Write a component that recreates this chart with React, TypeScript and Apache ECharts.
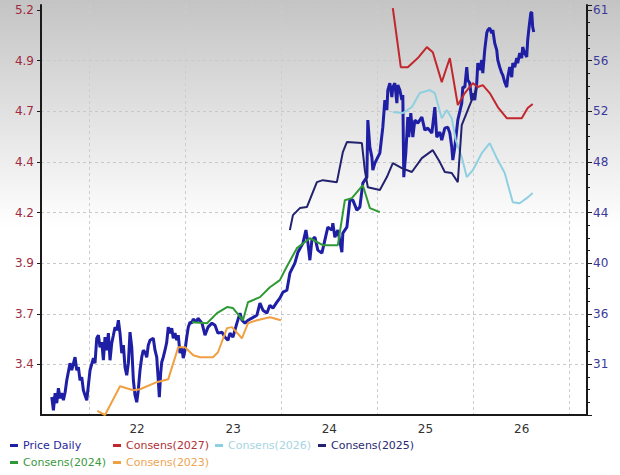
import React, { useEffect, useRef } from "react";
import * as echarts from "echarts";

// ---------- data ----------
const yearBounds = [2022, 2023, 2024, 2025, 2026, 2027];
const yearMids = [2022.5, 2023.5, 2024.5, 2025.5, 2026.5];
const yearLabels = ["22", "23", "24", "25", "26"];

const leftMin = 3.2;
const leftStep = 0.25;
const leftAxisLabels = ["3.4", "3.7", "3.9", "4.2", "4.4", "4.7", "4.9", "5.2"];
const rightMin = 27.82;
const rightStep = 4.15;
const rightAxisLabels = ["31", "36", "40", "44", "48", "52", "56", "61"];

const priceDaily: [number, number][] = [
  [2021.612, 29.3], [2021.629, 28.21], [2021.647, 29.61], [2021.664, 28.79], [2021.681, 30.02],
  [2021.699, 29.2], [2021.716, 29.61], [2021.733, 29.03], [2021.751, 29.69], [2021.768, 30.67],
  [2021.802, 32.07], [2021.82, 31.49], [2021.854, 32.56], [2021.872, 31.49], [2021.889, 31.74],
  [2021.906, 30.67], [2021.924, 30.92], [2021.941, 29.85], [2021.958, 29.44], [2021.976, 29.03],
  [2022.01, 31.49], [2022.045, 32.48], [2022.062, 32.07], [2022.08, 34.12], [2022.097, 34.36],
  [2022.114, 33.38], [2022.132, 33.79], [2022.149, 32.31], [2022.166, 34.2], [2022.184, 33.13],
  [2022.201, 34.53], [2022.218, 32.31], [2022.236, 33.71], [2022.253, 34.36], [2022.27, 35.02],
  [2022.288, 34.77], [2022.305, 35.59], [2022.322, 34.53], [2022.34, 32.89], [2022.357, 33.54],
  [2022.374, 31.74], [2022.392, 31.08], [2022.409, 32.07], [2022.426, 34.61], [2022.444, 33.38],
  [2022.461, 30.67], [2022.478, 29.44], [2022.496, 28.87], [2022.512, 29.85], [2022.53, 31.49],
  [2022.548, 32.56], [2022.564, 33.13], [2022.582, 32.97], [2022.6, 32.56], [2022.616, 33.54],
  [2022.634, 33.95], [2022.668, 34.12], [2022.686, 33.13], [2022.704, 32.56], [2022.72, 30.67],
  [2022.731, 29.28], [2022.745, 31.25], [2022.756, 32.15], [2022.772, 32.56], [2022.79, 33.13],
  [2022.808, 33.79], [2022.824, 35.02], [2022.842, 34.53], [2022.86, 34.94], [2022.876, 34.12],
  [2022.894, 34.53], [2022.912, 33.95], [2022.928, 34.36], [2022.946, 32.89], [2022.964, 33.38],
  [2022.98, 32.48], [2022.998, 33.13], [2023.016, 34.2], [2023.032, 35.02], [2023.05, 35.43],
  [2023.068, 35.35], [2023.084, 35.68], [2023.12, 35.43], [2023.133, 35.76], [2023.175, 35.35],
  [2023.206, 34.36], [2023.237, 35.02], [2023.279, 35.35], [2023.31, 35.18], [2023.341, 34.53],
  [2023.383, 34.61], [2023.414, 34.2], [2023.445, 33.95], [2023.466, 34.53], [2023.497, 34.2],
  [2023.538, 35.35], [2023.57, 36.17], [2023.59, 35.59], [2023.622, 35.35], [2023.653, 35.59],
  [2023.694, 35.76], [2023.746, 36.0], [2023.778, 36.99], [2023.809, 36.41], [2023.85, 36.17],
  [2023.881, 36.82], [2023.913, 36.58], [2023.954, 37.07], [2023.985, 37.4], [2024.017, 37.89],
  [2024.058, 38.05], [2024.089, 39.45], [2024.141, 40.27], [2024.173, 41.17], [2024.225, 41.91],
  [2024.256, 42.98], [2024.277, 41.91], [2024.297, 40.51], [2024.318, 42.16], [2024.349, 42.4],
  [2024.38, 41.34], [2024.422, 41.09], [2024.453, 42.16], [2024.484, 43.22], [2024.526, 42.98],
  [2024.536, 43.55], [2024.557, 42.4], [2024.588, 42.98], [2024.63, 41.17], [2024.64, 42.73],
  [2024.682, 43.22], [2024.713, 45.44], [2024.744, 45.44], [2024.786, 44.62], [2024.817, 44.86],
  [2024.848, 46.83], [2024.89, 47.32], [2024.9, 52.0], [2024.921, 49.78], [2024.942, 48.96],
  [2024.952, 47.9], [2024.973, 48.47], [2025.004, 48.96], [2025.025, 49.29], [2025.056, 51.42],
  [2025.077, 53.64], [2025.098, 52.82], [2025.108, 54.46], [2025.129, 55.03], [2025.15, 53.88],
  [2025.16, 54.7], [2025.181, 55.03], [2025.202, 53.39], [2025.212, 54.87], [2025.233, 54.46],
  [2025.254, 53.64], [2025.264, 54.05], [2025.274, 47.32], [2025.295, 49.29], [2025.316, 52.24],
  [2025.326, 50.6], [2025.347, 52.57], [2025.368, 50.6], [2025.389, 52.0], [2025.42, 51.75],
  [2025.462, 52.24], [2025.493, 51.18], [2025.524, 51.34], [2025.566, 50.93], [2025.597, 53.06],
  [2025.617, 50.6], [2025.649, 51.01], [2025.669, 50.36], [2025.701, 51.34], [2025.732, 51.42],
  [2025.753, 50.93], [2025.773, 49.78], [2025.784, 48.72], [2025.805, 49.78], [2025.836, 52.0],
  [2025.877, 53.39], [2025.888, 54.7], [2025.909, 54.7], [2025.929, 56.34], [2025.94, 55.28],
  [2025.96, 55.03], [2025.981, 53.64], [2025.992, 54.21], [2026.012, 53.64], [2026.033, 55.03],
  [2026.044, 56.67], [2026.064, 56.1], [2026.085, 56.92], [2026.096, 55.85], [2026.116, 57.74],
  [2026.137, 59.13], [2026.148, 59.38], [2026.168, 59.54], [2026.189, 59.13], [2026.2, 59.38],
  [2026.22, 58.31], [2026.241, 57.74], [2026.252, 56.92], [2026.272, 56.34], [2026.293, 55.85],
  [2026.304, 55.69], [2026.324, 55.11], [2026.345, 54.7], [2026.356, 55.52], [2026.376, 56.34],
  [2026.397, 55.52], [2026.408, 56.67], [2026.428, 56.34], [2026.449, 57.08], [2026.459, 56.67],
  [2026.48, 57.49], [2026.501, 57.08], [2026.511, 57.99], [2026.532, 57.49], [2026.553, 57.17],
  [2026.563, 58.56], [2026.574, 59.38], [2026.595, 60.77], [2026.605, 60.86], [2026.615, 59.63],
  [2026.626, 59.22],
];

const consens2027: [number, number][] = [
  [2025.16, 5.21], [2025.243, 4.918], [2025.316, 4.918], [2025.42, 4.963], [2025.514, 5.017],
  [2025.576, 4.992], [2025.669, 4.844], [2025.753, 4.963], [2025.836, 4.731], [2025.909, 4.79],
  [2025.992, 4.839], [2026.044, 4.82], [2026.096, 4.829], [2026.168, 4.79], [2026.252, 4.721],
  [2026.345, 4.666], [2026.501, 4.666], [2026.563, 4.716], [2026.615, 4.736],
];

const consens2026: [number, number][] = [
  [2025.16, 4.696], [2025.264, 4.691], [2025.358, 4.721], [2025.441, 4.79], [2025.545, 4.805],
  [2025.597, 4.79], [2025.669, 4.666], [2025.721, 4.706], [2025.773, 4.666], [2025.815, 4.558],
  [2025.877, 4.474], [2025.929, 4.375], [2025.992, 4.409], [2026.085, 4.493], [2026.168, 4.543],
  [2026.241, 4.469], [2026.324, 4.395], [2026.408, 4.251], [2026.48, 4.246], [2026.553, 4.271],
  [2026.615, 4.296],
];

const consens2025: [number, number][] = [
  [2024.089, 4.113], [2024.121, 4.187], [2024.193, 4.222], [2024.266, 4.227], [2024.37, 4.35],
  [2024.432, 4.36], [2024.578, 4.35], [2024.64, 4.498], [2024.682, 4.548], [2024.838, 4.543],
  [2024.869, 4.409], [2024.9, 4.325], [2025.025, 4.311], [2025.098, 4.375], [2025.16, 4.444],
  [2025.254, 4.419], [2025.358, 4.4], [2025.462, 4.469], [2025.576, 4.508], [2025.649, 4.449],
  [2025.701, 4.4], [2025.773, 4.395], [2025.836, 4.35], [2025.877, 4.632], [2025.96, 4.731],
  [2026.033, 4.815],
];

const consens2024: [number, number][] = [
  [2023.071, 3.658], [2023.227, 3.653], [2023.331, 3.703], [2023.435, 3.733], [2023.497, 3.728],
  [2023.601, 3.668], [2023.653, 3.757], [2023.778, 3.782], [2023.881, 3.831], [2023.985, 3.866],
  [2024.048, 3.925], [2024.162, 4.024], [2024.297, 4.073], [2024.432, 4.039], [2024.588, 4.039],
  [2024.661, 4.261], [2024.734, 4.271], [2024.848, 4.335], [2024.921, 4.222], [2025.025, 4.202],
];

const consens2023: [number, number][] = [
  [2022.086, 3.22], [2022.166, 3.2], [2022.322, 3.342], [2022.461, 3.322], [2022.53, 3.327],
  [2022.704, 3.362], [2022.824, 3.377], [2022.928, 3.535], [2022.998, 3.535], [2023.084, 3.495],
  [2023.154, 3.485], [2023.289, 3.485], [2023.341, 3.51], [2023.435, 3.629], [2023.487, 3.634],
  [2023.59, 3.579], [2023.653, 3.653], [2023.746, 3.668], [2023.881, 3.683], [2023.996, 3.668],
];

const seriesDefs = [
  { name: "Price Daily", data: priceDaily, color: "#1f1fa5", text: "#26269a", axis: 1, width: 3 },
  { name: "Consens(2027)", data: consens2027, color: "#c1272d", text: "#b03034", axis: 0, width: 2 },
  { name: "Consens(2026)", data: consens2026, color: "#8fd0e0", text: "#a6d6e2", axis: 0, width: 2 },
  { name: "Consens(2025)", data: consens2025, color: "#22226e", text: "#2a2a70", axis: 0, width: 2 },
  { name: "Consens(2024)", data: consens2024, color: "#2f9a35", text: "#3a9a3e", axis: 0, width: 2 },
  { name: "Consens(2023)", data: consens2023, color: "#f0a040", text: "#eea452", axis: 0, width: 2 },
];

const legendSlots = [
  { left: 10, top: 440 },
  { left: 113, top: 440 },
  { left: 215, top: 440 },
  { left: 318, top: 440 },
  { left: 10, top: 457 },
  { left: 113, top: 457 },
];

const FONT = "DejaVu Sans";
const AXIS_COLOR = "#1a1a1a";

function labelFromTicks(v: number, min: number, step: number, labels: string[]) {
  const k = Math.round((v - min) / step);
  if (Math.abs(min + k * step - v) > step * 0.01) return "";
  return labels[k - 1] ?? "";
}

export default function App() {
  const ref = useRef<HTMLDivElement>(null);

  useEffect(() => {
    if (!ref.current) return;
    const chart = echarts.init(ref.current, null, { renderer: "svg" });

    const option: any = {
      animation: false,
      backgroundColor: new echarts.graphic.LinearGradient(0, 0, 0, 1, [
        { offset: 0, color: "#c4c4c4" },
        { offset: 0.48, color: "#ffffff" },
        { offset: 1, color: "#ffffff" },
      ]),
      textStyle: { fontFamily: FONT },
      grid: { left: 41, right: 33, top: 5, bottom: 60, outerBoundsMode: "none" },
      legend: seriesDefs.map((s, i) => ({
        data: [s.name],
        left: legendSlots[i].left,
        top: legendSlots[i].top,
        padding: 0,
        icon: "rect",
        itemWidth: 8,
        itemHeight: 3,
        selectedMode: false,
        textStyle: { color: s.text, fontSize: 11, fontFamily: FONT },
      })),
      xAxis: {
        type: "value",
        min: 2021.5,
        max: 2027.18,
        axisLine: { show: true, onZero: false, lineStyle: { color: AXIS_COLOR, width: 2 } },
        axisTick: { show: false, customValues: yearBounds },
        axisLabel: {
          customValues: yearMids,
          color: "#333333",
          fontSize: 12,
          margin: 8,
          fontFamily: FONT,
          formatter: (v: number) => yearLabels[Math.floor(v) - 2022] ?? "",
        },
        splitLine: { show: true, lineStyle: { color: "#cdcdcd", type: [3, 3], width: 1 } },
      },
      yAxis: [
        {
          type: "value",
          position: "left",
          min: leftMin,
          max: 5.225,
          interval: leftStep,
          axisLine: { show: true, lineStyle: { color: AXIS_COLOR, width: 2 } },
          axisTick: { show: true, length: 4, lineStyle: { color: AXIS_COLOR } },
          axisLabel: {
            color: "#9e2b3e",
            fontSize: 12,
            margin: 7,
            fontFamily: FONT,
            showMinLabel: false,
            showMaxLabel: false,
            formatter: (v: number) => labelFromTicks(v, leftMin, leftStep, leftAxisLabels),
          },
          splitLine: { show: true, lineStyle: { color: "#c8c8c8", type: [3, 3], width: 1 } },
        },
        {
          type: "value",
          position: "right",
          min: rightMin,
          max: 61.435,
          interval: rightStep,
          axisLine: { show: true, lineStyle: { color: AXIS_COLOR, width: 2 } },
          axisTick: { show: true, length: 5, lineStyle: { color: AXIS_COLOR } },
          minorTick: { show: true, splitNumber: 4, length: 3, lineStyle: { color: AXIS_COLOR } },
          axisLabel: {
            color: "#3a3a9a",
            fontSize: 12,
            margin: 6,
            fontFamily: FONT,
            showMinLabel: false,
            showMaxLabel: false,
            formatter: (v: number) => labelFromTicks(v, rightMin, rightStep, rightAxisLabels),
          },
          splitLine: { show: false },
          minorSplitLine: { show: false },
        },
      ],
      series: seriesDefs.map((s) => ({
        name: s.name,
        type: "line",
        yAxisIndex: s.axis,
        data: s.data,
        showSymbol: false,
        symbol: "none",
        color: s.color,
        lineStyle: { color: s.color, width: s.width },
        emphasis: { disabled: true },
        z: s.axis === 1 ? 2 : 3,
      })),
    };

    chart.setOption(option);
    return () => chart.dispose();
  }, []);

  return (
    <div
      ref={ref}
      style={{ position: "fixed", left: 0, top: 0, width: 620, height: 475 }}
    />
  );
}
